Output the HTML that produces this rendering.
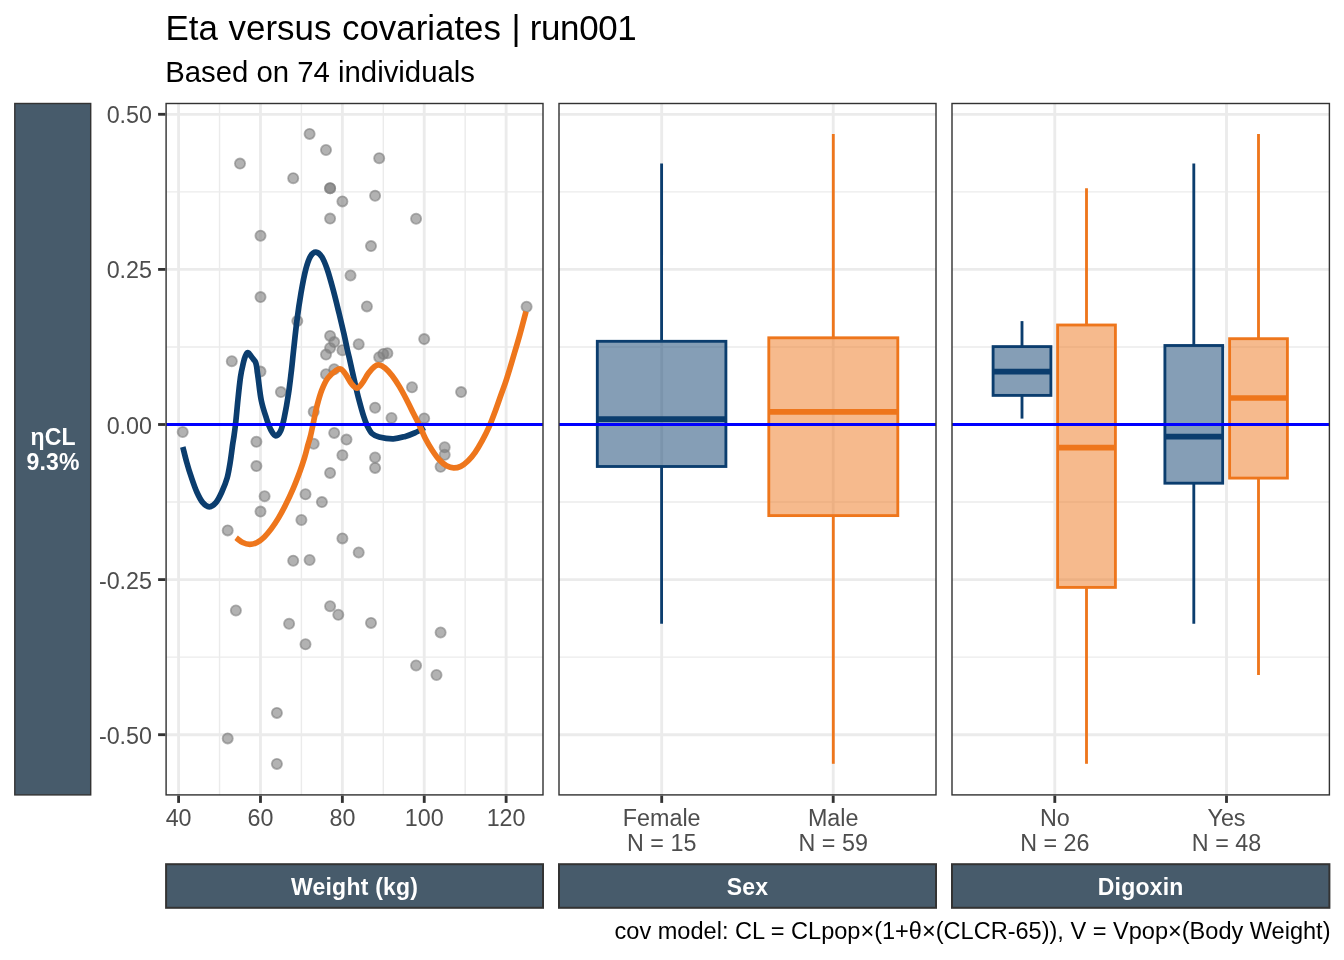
<!DOCTYPE html>
<html lang="en"><head><meta charset="utf-8"><title>Eta versus covariates | run001</title>
<style>html,body{margin:0;padding:0;background:#fff;}svg{display:block;will-change:transform;font-family:"Liberation Sans",sans-serif;}text{font-family:"Liberation Sans",sans-serif;}</style></head><body>
<svg width="1344" height="960" viewBox="0 0 1344 960">
<rect x="0" y="0" width="1344" height="960" fill="#FFFFFF"/>
<clipPath id="c1"><rect x="166.1" y="103.5" width="376.9" height="691.4"/></clipPath>
<clipPath id="c2"><rect x="559.0" y="103.5" width="377.0" height="691.4"/></clipPath>
<clipPath id="c3"><rect x="952.0" y="103.5" width="377.4" height="691.4"/></clipPath>
<text x="165.6" y="39.6" font-size="34.9" fill="#000">Eta <tspan dx="0.9">versus</tspan> <tspan dx="0.9">covariates</tspan> <tspan dx="0.7">|</tspan> <tspan dx="-0.4" letter-spacing="-0.35">run001</tspan></text>
<text x="165.2" y="81.8" font-size="29.33" fill="#000">Based on 74 individuals</text>
<text x="1330.5" y="939.1" font-size="23.55" fill="#000" text-anchor="end">cov model: CL = CLpop×(1+θ×(CLCR-65)), V = Vpop×(Body Weight)</text>
<rect x="14.8" y="103.5" width="75.9" height="691.4" fill="#475B6B" stroke="#333333" stroke-width="1.42"/>
<text x="53.1" y="445" font-size="23.0" font-weight="bold" letter-spacing="0.22" fill="#fff" text-anchor="middle">ηCL</text>
<text x="53.1" y="470.4" font-size="23.0" font-weight="bold" letter-spacing="0.22" fill="#fff" text-anchor="middle">9.3%</text>
<rect x="166.1" y="864.2" width="376.9" height="43.6" fill="#475B6B" stroke="#333333" stroke-width="2"/>
<text x="354.6" y="895.0" font-size="23.0" font-weight="bold" letter-spacing="0.22" fill="#fff" text-anchor="middle">Weight (kg)</text>
<rect x="559.0" y="864.2" width="377.0" height="43.6" fill="#475B6B" stroke="#333333" stroke-width="2"/>
<text x="747.5" y="895.0" font-size="23.0" font-weight="bold" letter-spacing="0.22" fill="#fff" text-anchor="middle">Sex</text>
<rect x="952.0" y="864.2" width="377.4" height="43.6" fill="#475B6B" stroke="#333333" stroke-width="2"/>
<text x="1140.7" y="895.0" font-size="23.0" font-weight="bold" letter-spacing="0.22" fill="#fff" text-anchor="middle">Digoxin</text>
<g clip-path="url(#c1)">
<line x1="219.54" x2="219.54" y1="103.5" y2="794.9" stroke="#EBEBEB" stroke-width="1.42"/>
<line x1="301.42" x2="301.42" y1="103.5" y2="794.9" stroke="#EBEBEB" stroke-width="1.42"/>
<line x1="383.30" x2="383.30" y1="103.5" y2="794.9" stroke="#EBEBEB" stroke-width="1.42"/>
<line x1="465.18" x2="465.18" y1="103.5" y2="794.9" stroke="#EBEBEB" stroke-width="1.42"/>
<line x1="166.1" x2="543.0" y1="191.85" y2="191.85" stroke="#EBEBEB" stroke-width="1.42"/>
<line x1="166.1" x2="543.0" y1="346.95" y2="346.95" stroke="#EBEBEB" stroke-width="1.42"/>
<line x1="166.1" x2="543.0" y1="502.05" y2="502.05" stroke="#EBEBEB" stroke-width="1.42"/>
<line x1="166.1" x2="543.0" y1="657.15" y2="657.15" stroke="#EBEBEB" stroke-width="1.42"/>
<line x1="166.1" x2="543.0" y1="114.30" y2="114.30" stroke="#EBEBEB" stroke-width="2.85"/>
<line x1="166.1" x2="543.0" y1="269.40" y2="269.40" stroke="#EBEBEB" stroke-width="2.85"/>
<line x1="166.1" x2="543.0" y1="424.50" y2="424.50" stroke="#EBEBEB" stroke-width="2.85"/>
<line x1="166.1" x2="543.0" y1="579.60" y2="579.60" stroke="#EBEBEB" stroke-width="2.85"/>
<line x1="166.1" x2="543.0" y1="734.70" y2="734.70" stroke="#EBEBEB" stroke-width="2.85"/>
<line x1="178.60" x2="178.60" y1="103.5" y2="794.9" stroke="#EBEBEB" stroke-width="2.85"/>
<line x1="260.48" x2="260.48" y1="103.5" y2="794.9" stroke="#EBEBEB" stroke-width="2.85"/>
<line x1="342.36" x2="342.36" y1="103.5" y2="794.9" stroke="#EBEBEB" stroke-width="2.85"/>
<line x1="424.24" x2="424.24" y1="103.5" y2="794.9" stroke="#EBEBEB" stroke-width="2.85"/>
<line x1="506.12" x2="506.12" y1="103.5" y2="794.9" stroke="#EBEBEB" stroke-width="2.85"/>
<g fill="#7F7F7F" fill-opacity="0.6" stroke="#7F7F7F" stroke-opacity="0.6" stroke-width="1.8">
<circle cx="309.6" cy="133.9" r="5.1"/>
<circle cx="326.0" cy="150.0" r="5.1"/>
<circle cx="379.2" cy="158.2" r="5.1"/>
<circle cx="240.0" cy="163.6" r="5.1"/>
<circle cx="293.2" cy="178.2" r="5.1"/>
<circle cx="330.1" cy="188.2" r="5.1"/>
<circle cx="330.1" cy="188.2" r="5.1"/>
<circle cx="375.1" cy="195.7" r="5.1"/>
<circle cx="342.4" cy="201.4" r="5.1"/>
<circle cx="330.1" cy="218.6" r="5.1"/>
<circle cx="260.5" cy="235.7" r="5.1"/>
<circle cx="371.0" cy="246.1" r="5.1"/>
<circle cx="416.1" cy="218.75" r="5.1"/>
<circle cx="350.5" cy="275.5" r="5.1"/>
<circle cx="260.5" cy="297.1" r="5.1"/>
<circle cx="366.9" cy="306.4" r="5.1"/>
<circle cx="297.3" cy="321.1" r="5.1"/>
<circle cx="330.1" cy="335.9" r="5.1"/>
<circle cx="334.2" cy="342.1" r="5.1"/>
<circle cx="358.7" cy="344.3" r="5.1"/>
<circle cx="330.1" cy="348.0" r="5.1"/>
<circle cx="342.4" cy="350.2" r="5.1"/>
<circle cx="326.0" cy="354.6" r="5.1"/>
<circle cx="387.4" cy="353.2" r="5.1"/>
<circle cx="383.3" cy="353.9" r="5.1"/>
<circle cx="379.2" cy="357.3" r="5.1"/>
<circle cx="231.8" cy="361.25" r="5.1"/>
<circle cx="260.5" cy="371.6" r="5.1"/>
<circle cx="334.2" cy="369.3" r="5.1"/>
<circle cx="326.0" cy="374.3" r="5.1"/>
<circle cx="280.9" cy="392.1" r="5.1"/>
<circle cx="375.1" cy="407.7" r="5.1"/>
<circle cx="313.7" cy="411.8" r="5.1"/>
<circle cx="391.5" cy="418.0" r="5.1"/>
<circle cx="526.6" cy="306.8" r="5.1"/>
<circle cx="424.2" cy="339.1" r="5.1"/>
<circle cx="412.0" cy="387.3" r="5.1"/>
<circle cx="461.1" cy="392.1" r="5.1"/>
<circle cx="424.2" cy="418.4" r="5.1"/>
<circle cx="182.7" cy="432.0" r="5.1"/>
<circle cx="334.2" cy="432.9" r="5.1"/>
<circle cx="346.5" cy="439.6" r="5.1"/>
<circle cx="256.4" cy="441.8" r="5.1"/>
<circle cx="313.7" cy="443.75" r="5.1"/>
<circle cx="342.4" cy="455.2" r="5.1"/>
<circle cx="375.1" cy="457.5" r="5.1"/>
<circle cx="256.4" cy="466.1" r="5.1"/>
<circle cx="375.1" cy="467.9" r="5.1"/>
<circle cx="330.1" cy="472.9" r="5.1"/>
<circle cx="305.5" cy="494.3" r="5.1"/>
<circle cx="264.6" cy="496.25" r="5.1"/>
<circle cx="321.9" cy="502.1" r="5.1"/>
<circle cx="260.5" cy="511.6" r="5.1"/>
<circle cx="301.4" cy="520.0" r="5.1"/>
<circle cx="227.7" cy="530.4" r="5.1"/>
<circle cx="342.4" cy="538.4" r="5.1"/>
<circle cx="358.7" cy="552.5" r="5.1"/>
<circle cx="293.2" cy="560.7" r="5.1"/>
<circle cx="309.6" cy="560.0" r="5.1"/>
<circle cx="444.7" cy="447.3" r="5.1"/>
<circle cx="444.7" cy="454.8" r="5.1"/>
<circle cx="440.6" cy="466.8" r="5.1"/>
<circle cx="330.1" cy="606.25" r="5.1"/>
<circle cx="235.9" cy="610.5" r="5.1"/>
<circle cx="338.3" cy="614.8" r="5.1"/>
<circle cx="289.1" cy="623.75" r="5.1"/>
<circle cx="371.0" cy="622.9" r="5.1"/>
<circle cx="305.5" cy="644.3" r="5.1"/>
<circle cx="276.9" cy="712.9" r="5.1"/>
<circle cx="227.7" cy="738.4" r="5.1"/>
<circle cx="440.6" cy="632.5" r="5.1"/>
<circle cx="416.1" cy="665.5" r="5.1"/>
<circle cx="436.5" cy="675.0" r="5.1"/>
<circle cx="276.9" cy="763.9" r="5.1"/>
</g>
<path d="M182.8,447.0C183.5,449.5 185.2,457.1 186.7,462.2C188.1,467.3 189.8,472.7 191.5,477.7C193.2,482.7 194.9,487.8 196.8,492.0C198.7,496.2 200.7,500.2 202.8,502.7C204.9,505.2 207.1,506.8 209.3,506.8C211.5,506.8 213.8,505.2 215.9,502.7C218.0,500.2 219.9,496.2 221.8,492.0C223.7,487.8 225.8,482.7 227.2,477.7C228.6,472.7 229.3,467.6 230.2,462.2C231.1,456.8 231.9,449.9 232.5,445.5C233.1,441.1 233.5,439.5 234.0,436.0C234.5,432.5 234.8,430.5 235.5,424.5C236.2,418.5 237.1,407.9 237.9,400.0C238.7,392.1 239.6,383.4 240.5,377.0C241.4,370.6 242.8,365.5 243.6,361.9C244.4,358.3 245.0,357.1 245.6,355.6C246.2,354.1 246.5,353.6 247.0,353.1C247.5,352.7 248.0,352.6 248.5,352.9C249.0,353.2 249.6,354.2 250.2,355.0C250.8,355.8 251.4,356.6 252.0,357.4C252.6,358.2 253.2,359.0 253.8,359.8C254.4,360.6 255.0,361.0 255.5,362.2C256.0,363.4 256.3,364.4 256.7,367.0C257.1,369.6 257.3,371.9 258.1,377.5C258.9,383.1 259.9,393.6 261.3,400.5C262.7,407.4 264.9,413.6 266.5,418.6C268.1,423.6 269.6,427.6 271.2,430.5C272.8,433.4 274.2,435.8 275.8,435.8C277.4,435.8 279.4,433.6 280.8,430.5C282.2,427.4 283.0,423.5 284.3,417.4C285.6,411.2 287.3,401.5 288.5,393.6C289.7,385.7 290.6,377.1 291.5,369.8C292.4,362.5 292.7,358.0 293.6,350.0C294.5,342.0 295.6,331.2 296.8,321.7C298.0,312.2 299.5,301.8 301.0,293.1C302.5,284.4 304.2,275.5 305.8,269.3C307.4,263.1 308.8,259.1 310.5,256.2C312.2,253.3 314.0,252.0 315.9,252.1C317.8,252.2 319.9,253.9 321.8,256.8C323.7,259.7 325.3,263.8 327.2,269.3C329.1,274.8 331.1,282.2 333.1,289.6C335.1,297.0 337.3,306.1 339.1,313.4C340.9,320.7 342.5,327.5 343.9,333.6C345.3,339.7 346.5,345.9 347.4,350.0C348.3,354.1 348.2,353.0 349.3,357.9C350.4,362.8 352.5,372.4 354.1,379.3C355.7,386.2 357.3,393.4 358.9,399.5C360.5,405.6 362.2,411.8 363.6,416.2C365.0,420.6 365.8,422.8 367.2,425.7C368.6,428.6 370.0,431.6 372.0,433.5C374.0,435.4 375.5,436.1 379.1,437.0C382.7,437.9 389.0,438.9 393.4,438.8C397.8,438.7 401.7,437.4 405.3,436.4C408.9,435.4 411.6,434.4 414.8,432.9C418.0,431.4 423.0,428.5 424.6,427.6" fill="none" stroke="#0B3D6E" stroke-width="5.7" stroke-linejoin="round"/>
<path d="M236.1,537.8C237.2,538.6 240.4,541.4 242.7,542.5C245.0,543.6 247.4,544.3 249.8,544.3C252.2,544.3 254.6,543.7 257.0,542.5C259.4,541.3 261.7,539.5 264.1,537.2C266.5,534.9 268.8,532.1 271.2,528.9C273.6,525.7 276.0,522.1 278.4,518.1C280.8,514.1 283.1,509.8 285.5,505.0C287.9,500.2 290.3,495.2 292.7,489.6C295.1,484.1 297.8,477.1 299.8,471.7C301.8,466.3 303.2,462.0 304.6,457.4C306.0,452.8 307.1,447.9 308.1,444.3C309.1,440.7 309.6,439.7 310.5,436.0C311.4,432.3 312.4,427.2 313.5,422.1C314.6,417.0 315.7,410.9 317.1,405.5C318.5,400.1 320.0,394.6 321.8,390.0C323.6,385.4 325.4,381.4 327.8,378.1C330.2,374.8 334.0,371.9 336.2,370.4C338.4,368.9 339.4,368.5 341.0,369.2C342.6,369.9 344.0,372.0 345.8,374.5C347.6,377.0 349.8,381.7 351.7,384.0C353.6,386.3 355.3,388.4 357.1,388.2C358.9,388.0 360.5,385.4 362.4,382.9C364.3,380.4 366.4,376.0 368.4,373.3C370.4,370.6 372.5,368.2 374.3,366.8C376.1,365.4 377.3,364.8 379.1,365.0C380.9,365.2 382.8,366.2 385.0,368.0C387.2,369.8 389.8,372.6 392.2,375.7C394.6,378.8 396.9,382.4 399.3,386.4C401.7,390.4 404.1,394.9 406.5,399.5C408.9,404.1 411.4,409.4 413.6,413.8C415.8,418.2 417.6,421.5 419.6,425.7C421.6,429.9 423.4,434.7 425.5,438.8C427.6,442.9 429.9,446.7 432.2,450.2C434.5,453.7 436.9,457.2 439.3,459.8C441.7,462.4 444.1,464.4 446.5,465.7C448.9,467.0 451.2,467.8 453.6,467.9C456.0,468.0 458.4,467.4 460.8,466.3C463.2,465.2 465.5,463.3 467.9,461.0C470.3,458.7 472.6,456.0 475.0,452.6C477.4,449.2 479.8,445.1 482.2,440.7C484.6,436.3 487.1,431.3 489.3,426.4C491.5,421.4 493.3,416.4 495.3,411.0C497.3,405.6 499.3,399.6 501.2,394.3C503.1,389.0 504.4,385.8 506.5,379.3C508.6,372.8 511.5,363.1 513.7,355.5C516.0,347.9 518.0,341.4 520.0,334.0C522.0,326.6 525.0,315.2 526.0,311.4" fill="none" stroke="#EE761C" stroke-width="5.7" stroke-linejoin="round"/>
<line x1="166.1" x2="543.0" y1="424.5" y2="424.5" stroke="#0000FF" stroke-width="2.85"/>
</g>
<g clip-path="url(#c2)">
<line x1="559.0" x2="936.0" y1="191.85" y2="191.85" stroke="#EBEBEB" stroke-width="1.42"/>
<line x1="559.0" x2="936.0" y1="346.95" y2="346.95" stroke="#EBEBEB" stroke-width="1.42"/>
<line x1="559.0" x2="936.0" y1="502.05" y2="502.05" stroke="#EBEBEB" stroke-width="1.42"/>
<line x1="559.0" x2="936.0" y1="657.15" y2="657.15" stroke="#EBEBEB" stroke-width="1.42"/>
<line x1="559.0" x2="936.0" y1="114.30" y2="114.30" stroke="#EBEBEB" stroke-width="2.85"/>
<line x1="559.0" x2="936.0" y1="269.40" y2="269.40" stroke="#EBEBEB" stroke-width="2.85"/>
<line x1="559.0" x2="936.0" y1="424.50" y2="424.50" stroke="#EBEBEB" stroke-width="2.85"/>
<line x1="559.0" x2="936.0" y1="579.60" y2="579.60" stroke="#EBEBEB" stroke-width="2.85"/>
<line x1="559.0" x2="936.0" y1="734.70" y2="734.70" stroke="#EBEBEB" stroke-width="2.85"/>
<line x1="661.7" x2="661.7" y1="103.5" y2="794.9" stroke="#EBEBEB" stroke-width="2.85"/>
<line x1="833.2" x2="833.2" y1="103.5" y2="794.9" stroke="#EBEBEB" stroke-width="2.85"/>
<line x1="661.6" x2="661.6" y1="163.5" y2="341.3" stroke="#0B3D6E" stroke-width="2.85"/>
<line x1="661.6" x2="661.6" y1="466.5" y2="623.75" stroke="#0B3D6E" stroke-width="2.85"/>
<rect x="597.3" y="341.3" width="128.6" height="125.2" fill="#0B3D6E" fill-opacity="0.5" stroke="#0B3D6E" stroke-width="2.85"/>
<line x1="597.3" x2="725.9" y1="419.1" y2="419.1" stroke="#0B3D6E" stroke-width="5.7"/>
<line x1="833.3" x2="833.3" y1="134.0" y2="337.8" stroke="#EE761C" stroke-width="2.85"/>
<line x1="833.3" x2="833.3" y1="515.6" y2="763.8" stroke="#EE761C" stroke-width="2.85"/>
<rect x="768.8" y="337.8" width="129.0" height="177.8" fill="#EE761C" fill-opacity="0.5" stroke="#EE761C" stroke-width="2.85"/>
<line x1="768.8" x2="897.8" y1="411.8" y2="411.8" stroke="#EE761C" stroke-width="5.7"/>
<line x1="559.0" x2="936.0" y1="424.5" y2="424.5" stroke="#0000FF" stroke-width="2.85"/>
</g>
<g clip-path="url(#c3)">
<line x1="952.0" x2="1329.4" y1="191.85" y2="191.85" stroke="#EBEBEB" stroke-width="1.42"/>
<line x1="952.0" x2="1329.4" y1="346.95" y2="346.95" stroke="#EBEBEB" stroke-width="1.42"/>
<line x1="952.0" x2="1329.4" y1="502.05" y2="502.05" stroke="#EBEBEB" stroke-width="1.42"/>
<line x1="952.0" x2="1329.4" y1="657.15" y2="657.15" stroke="#EBEBEB" stroke-width="1.42"/>
<line x1="952.0" x2="1329.4" y1="114.30" y2="114.30" stroke="#EBEBEB" stroke-width="2.85"/>
<line x1="952.0" x2="1329.4" y1="269.40" y2="269.40" stroke="#EBEBEB" stroke-width="2.85"/>
<line x1="952.0" x2="1329.4" y1="424.50" y2="424.50" stroke="#EBEBEB" stroke-width="2.85"/>
<line x1="952.0" x2="1329.4" y1="579.60" y2="579.60" stroke="#EBEBEB" stroke-width="2.85"/>
<line x1="952.0" x2="1329.4" y1="734.70" y2="734.70" stroke="#EBEBEB" stroke-width="2.85"/>
<line x1="1054.8" x2="1054.8" y1="103.5" y2="794.9" stroke="#EBEBEB" stroke-width="2.85"/>
<line x1="1226.5" x2="1226.5" y1="103.5" y2="794.9" stroke="#EBEBEB" stroke-width="2.85"/>
<line x1="1022.0" x2="1022.0" y1="321.1" y2="346.6" stroke="#0B3D6E" stroke-width="2.85"/>
<line x1="1022.0" x2="1022.0" y1="395.4" y2="418.6" stroke="#0B3D6E" stroke-width="2.85"/>
<rect x="993.1" y="346.6" width="57.8" height="48.8" fill="#0B3D6E" fill-opacity="0.5" stroke="#0B3D6E" stroke-width="2.85"/>
<line x1="993.1" x2="1050.9" y1="371.7" y2="371.7" stroke="#0B3D6E" stroke-width="5.7"/>
<line x1="1086.5" x2="1086.5" y1="188.2" y2="325.0" stroke="#EE761C" stroke-width="2.85"/>
<line x1="1086.5" x2="1086.5" y1="587.4" y2="763.8" stroke="#EE761C" stroke-width="2.85"/>
<rect x="1057.6" y="325.0" width="57.8" height="262.4" fill="#EE761C" fill-opacity="0.5" stroke="#EE761C" stroke-width="2.85"/>
<line x1="1057.6" x2="1115.4" y1="447.7" y2="447.7" stroke="#EE761C" stroke-width="5.7"/>
<line x1="1193.8" x2="1193.8" y1="163.5" y2="345.5" stroke="#0B3D6E" stroke-width="2.85"/>
<line x1="1193.8" x2="1193.8" y1="483.2" y2="623.75" stroke="#0B3D6E" stroke-width="2.85"/>
<rect x="1164.9" y="345.5" width="57.8" height="137.7" fill="#0B3D6E" fill-opacity="0.5" stroke="#0B3D6E" stroke-width="2.85"/>
<line x1="1164.9" x2="1222.7" y1="436.7" y2="436.7" stroke="#0B3D6E" stroke-width="5.7"/>
<line x1="1258.5" x2="1258.5" y1="134.0" y2="338.7" stroke="#EE761C" stroke-width="2.85"/>
<line x1="1258.5" x2="1258.5" y1="478.1" y2="675.0" stroke="#EE761C" stroke-width="2.85"/>
<rect x="1229.6" y="338.7" width="57.8" height="139.4" fill="#EE761C" fill-opacity="0.5" stroke="#EE761C" stroke-width="2.85"/>
<line x1="1229.6" x2="1287.4" y1="398.0" y2="398.0" stroke="#EE761C" stroke-width="5.7"/>
<line x1="952.0" x2="1329.4" y1="424.5" y2="424.5" stroke="#0000FF" stroke-width="2.85"/>
</g>
<rect x="166.1" y="103.5" width="376.9" height="691.4" fill="none" stroke="#333333" stroke-width="1.42"/>
<rect x="559.0" y="103.5" width="377.0" height="691.4" fill="none" stroke="#333333" stroke-width="1.42"/>
<rect x="952.0" y="103.5" width="377.4" height="691.4" fill="none" stroke="#333333" stroke-width="1.42"/>
<line x1="158.1" x2="165.4" y1="114.30" y2="114.30" stroke="#333333" stroke-width="2.85"/>
<text x="152.0" y="123.3" font-size="23.3" fill="#4D4D4D" text-anchor="end">0.50</text>
<line x1="158.1" x2="165.4" y1="269.40" y2="269.40" stroke="#333333" stroke-width="2.85"/>
<text x="152.0" y="278.4" font-size="23.3" fill="#4D4D4D" text-anchor="end">0.25</text>
<line x1="158.1" x2="165.4" y1="424.50" y2="424.50" stroke="#333333" stroke-width="2.85"/>
<text x="152.0" y="433.5" font-size="23.3" fill="#4D4D4D" text-anchor="end">0.00</text>
<line x1="158.1" x2="165.4" y1="579.60" y2="579.60" stroke="#333333" stroke-width="2.85"/>
<text x="152.0" y="588.6" font-size="23.3" fill="#4D4D4D" text-anchor="end">-0.25</text>
<line x1="158.1" x2="165.4" y1="734.70" y2="734.70" stroke="#333333" stroke-width="2.85"/>
<text x="152.0" y="743.7" font-size="23.3" fill="#4D4D4D" text-anchor="end">-0.50</text>
<line x1="178.60" x2="178.60" y1="795.6" y2="802.9" stroke="#333333" stroke-width="2.85"/>
<text x="178.6" y="826.3" font-size="23.3" fill="#4D4D4D" text-anchor="middle">40</text>
<line x1="260.48" x2="260.48" y1="795.6" y2="802.9" stroke="#333333" stroke-width="2.85"/>
<text x="260.5" y="826.3" font-size="23.3" fill="#4D4D4D" text-anchor="middle">60</text>
<line x1="342.36" x2="342.36" y1="795.6" y2="802.9" stroke="#333333" stroke-width="2.85"/>
<text x="342.4" y="826.3" font-size="23.3" fill="#4D4D4D" text-anchor="middle">80</text>
<line x1="424.24" x2="424.24" y1="795.6" y2="802.9" stroke="#333333" stroke-width="2.85"/>
<text x="424.2" y="826.3" font-size="23.3" fill="#4D4D4D" text-anchor="middle">100</text>
<line x1="506.12" x2="506.12" y1="795.6" y2="802.9" stroke="#333333" stroke-width="2.85"/>
<text x="506.1" y="826.3" font-size="23.3" fill="#4D4D4D" text-anchor="middle">120</text>
<line x1="661.7" x2="661.7" y1="795.6" y2="802.9" stroke="#333333" stroke-width="2.85"/>
<text x="661.7" y="826.3" font-size="23.3" fill="#4D4D4D" text-anchor="middle">Female</text>
<text x="661.7" y="851.0" font-size="23.3" fill="#4D4D4D" text-anchor="middle">N = 15</text>
<line x1="833.2" x2="833.2" y1="795.6" y2="802.9" stroke="#333333" stroke-width="2.85"/>
<text x="833.2" y="826.3" font-size="23.3" fill="#4D4D4D" text-anchor="middle">Male</text>
<text x="833.2" y="851.0" font-size="23.3" fill="#4D4D4D" text-anchor="middle">N = 59</text>
<line x1="1054.8" x2="1054.8" y1="795.6" y2="802.9" stroke="#333333" stroke-width="2.85"/>
<text x="1054.8" y="826.3" font-size="23.3" fill="#4D4D4D" text-anchor="middle">No</text>
<text x="1054.8" y="851.0" font-size="23.3" fill="#4D4D4D" text-anchor="middle">N = 26</text>
<line x1="1226.5" x2="1226.5" y1="795.6" y2="802.9" stroke="#333333" stroke-width="2.85"/>
<text x="1226.5" y="826.3" font-size="23.3" fill="#4D4D4D" text-anchor="middle">Yes</text>
<text x="1226.5" y="851.0" font-size="23.3" fill="#4D4D4D" text-anchor="middle">N = 48</text>
</svg></body></html>
